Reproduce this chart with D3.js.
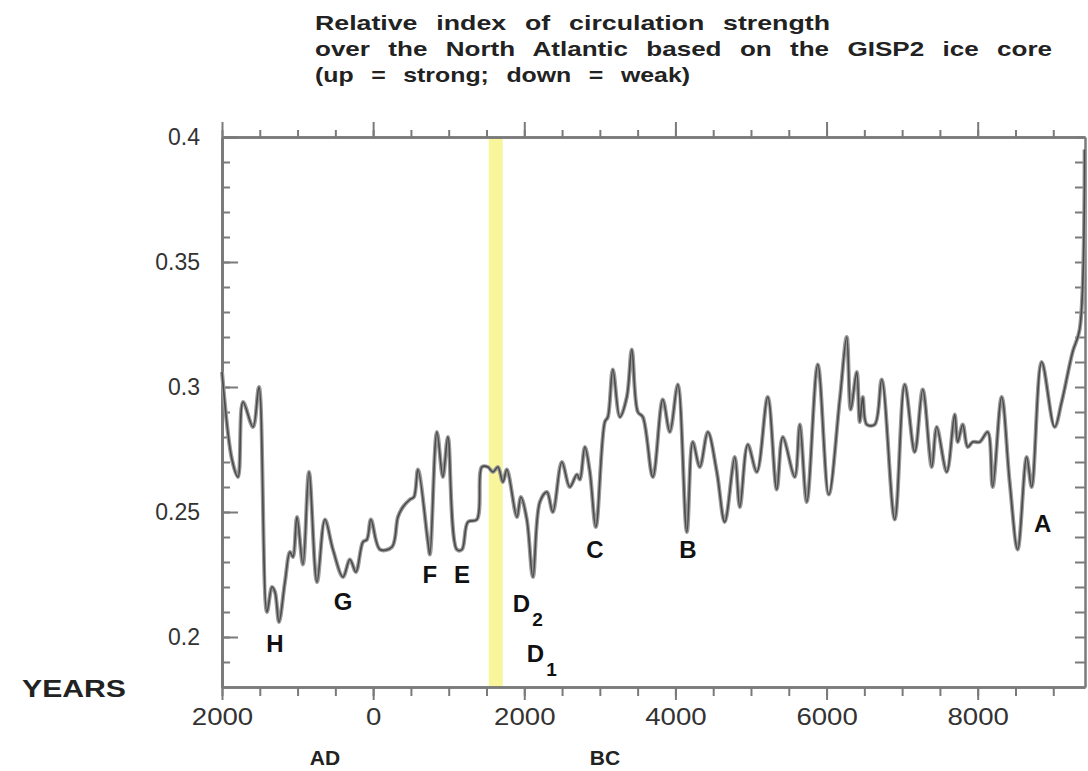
<!DOCTYPE html>
<html lang="en">
<head>
    <meta charset="UTF-8">
    <script src="https://d3js.org/d3.v7.min.js"></script>
    <title>GISP2 circulation index</title>
    <style>
        body { margin: 0; background: #fff; }
        text { font-family: "Liberation Sans", Arial, sans-serif; }
    </style>
</head>
<body>
    <div id="chart"></div>
    <script>
        const width = 1088;
        const height = 771;
        const margin = { top: 137, right: 3, bottom: 84, left: 222 };

        // years: negative = AD, positive = BC
        const years = [-2000, -1868, -1788, -1722, -1590, -1511, -1405, -1339, -1299, -1246,
            -1167, -1101, -1061, -1008, -929, -849, -743, -638, -532, -399,
            -307, -228, -135, -82, -29, 90, 249, 328, 394, 487,
            540, 593, 725, 751, 844, 923, 989, 1108, 1175, 1254,
            1373, 1439, 1519, 1585, 1651, 1717, 1770, 1902, 1955, 2034,
            2114, 2206, 2299, 2378, 2497, 2603, 2696, 2735, 2802, 2868,
            2947, 3066, 3106, 3172, 3265, 3357, 3423, 3503, 3569, 3701,
            3833, 3926, 4032, 4151, 4230, 4323, 4429, 4548, 4653, 4786,
            4852, 4958, 5077, 5222, 5341, 5421, 5579, 5646, 5738, 5884,
            6029, 6175, 6267, 6320, 6399, 6439, 6479, 6532, 6638, 6730,
            6902, 7034, 7167, 7273, 7392, 7458, 7590, 7696, 7735, 7802,
            7868, 7934, 8026, 8132, 8198, 8317, 8423, 8529, 8648, 8714,
            8847, 9018, 9111, 9256, 9349, 9415];
        const index = [0.306, 0.271, 0.264, 0.294, 0.284, 0.300, 0.210, 0.220, 0.218, 0.206,
            0.222, 0.234, 0.232, 0.248, 0.229, 0.266, 0.222, 0.247, 0.235, 0.224,
            0.231, 0.226, 0.238, 0.239, 0.247, 0.235, 0.236, 0.248, 0.252, 0.255,
            0.256, 0.267, 0.238, 0.233, 0.282, 0.264, 0.280, 0.235, 0.235, 0.246,
            0.247, 0.268, 0.268, 0.266, 0.268, 0.262, 0.267, 0.248, 0.256, 0.247,
            0.224, 0.254, 0.258, 0.250, 0.270, 0.260, 0.265, 0.263, 0.276, 0.266,
            0.244, 0.286, 0.288, 0.307, 0.288, 0.296, 0.315, 0.290, 0.288, 0.264,
            0.295, 0.282, 0.301, 0.242, 0.278, 0.268, 0.282, 0.266, 0.246, 0.272,
            0.252, 0.277, 0.266, 0.296, 0.259, 0.280, 0.264, 0.285, 0.254, 0.309,
            0.257, 0.295, 0.320, 0.291, 0.306, 0.286, 0.296, 0.285, 0.285, 0.303,
            0.247, 0.301, 0.274, 0.299, 0.268, 0.284, 0.266, 0.289, 0.278, 0.285,
            0.276, 0.278, 0.278, 0.282, 0.260, 0.296, 0.262, 0.235, 0.272, 0.260,
            0.310, 0.284, 0.294, 0.314, 0.323, 0.395];

        const xTicks = [-2000, 0, 2000, 4000, 6000, 8000];
        const yTicks = [0.2, 0.25, 0.3, 0.35, 0.4];
        const band = [1530, 1715];

        // event labels (letter, year, value)
        const eventLabels = ["H", "G", "F", "E", "C", "B", "A"];
        const eventYears = [-1299, -399, 751, 1175, 2934, 4164, 8860];
        const eventValues = [0.194, 0.2108, 0.2216, 0.2216, 0.2316, 0.2316, 0.242];
        const dLabels = ["2", "1"];
        const dYears = [1849, 2034];
        const dValues = [0.21, 0.19];

        const titleLines = [
            "Relative index of circulation strength",
            "over the North Atlantic based on the GISP2 ice core",
            "(up = strong; down = weak)"
        ];

        const svg = d3.select("#chart")
            .append("svg")
            .attr("width", width)
            .attr("height", height);

        const innerW = width - margin.left - margin.right;
        const innerH = height - margin.top - margin.bottom;

        const xScale = d3.scaleLinear().domain([-2000, 9420]).range([0, innerW]);
        const yScale = d3.scaleLinear().domain([0.18, 0.4]).range([innerH, 0]);

        const g = svg.append("g")
            .attr("transform", `translate(${margin.left},${margin.top})`);

        // yellow band
        g.append("rect")
            .attr("x", xScale(band[0]))
            .attr("y", 0)
            .attr("width", xScale(band[1]) - xScale(band[0]))
            .attr("height", innerH)
            .attr("fill", "#f7f38a")
            .attr("opacity", 0.85);

        // axes (frame with ticks)
        const axisColor = "#7a7a7a";
        const minorX = d3.range(-2000, 9420, 500);
        const minorY = d3.range(0.19, 0.401, 0.01);

        function styleAxis(sel) {
            sel.select(".domain").attr("stroke", axisColor).attr("stroke-width", 2.5);
            sel.selectAll(".tick line").attr("stroke", axisColor).attr("stroke-width", 2);
        }

        g.append("g").attr("transform", `translate(0,${innerH})`)
            .call(d3.axisBottom(xScale).tickValues(minorX).tickSize(9).tickSizeOuter(0).tickFormat(""))
            .call(styleAxis);
        g.append("g").attr("transform", `translate(0,${innerH})`)
            .call(d3.axisBottom(xScale).tickValues(xTicks).tickSize(13).tickSizeOuter(0)
                .tickFormat(d => Math.abs(d)))
            .call(styleAxis)
            .call(s => s.selectAll(".tick text")
                .attr("font-size", 23).attr("fill", "#333").attr("dy", "0.95em")
                .attr("transform", "scale(1.2,1)").attr("x", 0));

        g.append("g")
            .call(d3.axisTop(xScale).tickValues(minorX).tickSize(7).tickSizeOuter(0).tickFormat(""))
            .call(styleAxis);
        g.append("g")
            .call(d3.axisTop(xScale).tickValues(xTicks).tickSize(15).tickSizeOuter(0).tickFormat(""))
            .call(styleAxis);

        g.append("g")
            .call(d3.axisRight(yScale).tickValues(minorY).tickSize(8).tickSizeOuter(0).tickFormat(""))
            .call(styleAxis);
        const yAx = g.append("g")
            .call(d3.axisLeft(yScale).tickValues(yTicks).tickSize(0).tickSizeOuter(0)
                .tickFormat(d => d3.format("")(+d.toFixed(2))))
            .call(styleAxis);
        yAx.selectAll(".tick text")
            .attr("x", -22).attr("font-size", 23).attr("fill", "#333");
        g.append("g")
            .call(d3.axisRight(yScale).tickValues(yTicks).tickSize(16).tickSizeOuter(0).tickFormat(""))
            .call(styleAxis);

        g.append("g").attr("transform", `translate(${innerW},0)`)
            .call(d3.axisLeft(yScale).tickValues(minorY).tickSize(10).tickSizeOuter(0).tickFormat(""))
            .call(styleAxis);

        // data line
        const data = years.map((y, i) => ({ year: y, value: index[i] }));
        const line = d3.line()
            .x(d => xScale(d.year))
            .y(d => yScale(d.value))
            .curve(d3.curveCatmullRom.alpha(0.5));

        g.append("path")
            .datum(data)
            .attr("fill", "none")
            .attr("stroke", "#9a9a9a")
            .attr("stroke-width", 4)
            .attr("d", line);
        g.append("path")
            .datum(data)
            .attr("fill", "none")
            .attr("stroke", "#4a4a4a")
            .attr("stroke-width", 1.6)
            .attr("d", line);

        // event letters
        g.selectAll(".event")
            .data(eventLabels)
            .enter().append("text")
            .attr("x", (d, i) => xScale(eventYears[i]))
            .attr("y", (d, i) => yScale(eventValues[i]))
            .attr("text-anchor", "middle")
            .attr("font-size", 24)
            .attr("font-weight", "bold")
            .attr("fill", "#111")
            .text(d => d);

        const dText = g.selectAll(".dlabel")
            .data(dLabels)
            .enter().append("text")
            .attr("x", (d, i) => xScale(dYears[i]))
            .attr("y", (d, i) => yScale(dValues[i]))
            .attr("font-size", 24)
            .attr("font-weight", "bold")
            .attr("fill", "#111");
        dText.append("tspan").text("D");
        dText.append("tspan").attr("dy", 14).attr("dx", 2).attr("font-size", 19).text(d => d);

        // title
        svg.selectAll(".title")
            .data(titleLines)
            .enter().append("text")
            .attr("x", 315)
            .attr("y", (d, i) => 30 + i * 26)
            .attr("font-size", 21)
            .attr("font-weight", "bold")
            .attr("fill", "#222")
            .attr("word-spacing", 9)
            .attr("textLength", (d, i) => [515, 737, 375][i])
            .attr("lengthAdjust", "spacingAndGlyphs")
            .text(d => d);

        // axis captions
        svg.append("text")
            .attr("x", 22).attr("y", 697)
            .attr("font-size", 23).attr("font-weight", "bold").attr("fill", "#222")
            .attr("textLength", 104).attr("lengthAdjust", "spacingAndGlyphs")
            .text("YEARS");
        svg.append("text")
            .attr("x", 325).attr("y", 765)
            .attr("text-anchor", "middle")
            .attr("font-size", 21).attr("font-weight", "bold").attr("fill", "#222")
            .text("AD");
        svg.append("text")
            .attr("x", 605).attr("y", 765)
            .attr("text-anchor", "middle")
            .attr("font-size", 21).attr("font-weight", "bold").attr("fill", "#222")
            .text("BC");
    </script>
</body>
</html>
